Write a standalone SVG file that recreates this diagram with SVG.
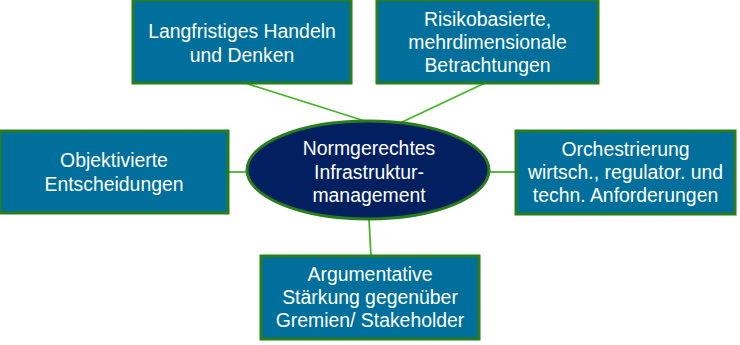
<svg xmlns="http://www.w3.org/2000/svg" width="740" height="345" viewBox="0 0 740 345">
<style>
.box{fill:#006f9c;stroke:#2a7d1c;stroke-width:3}
.ell{fill:#022060;stroke:#2a7d1c;stroke-width:3}
.con{stroke:#45b52a;stroke-width:1.8;fill:none}
text{font-family:"Liberation Sans",Arial,sans-serif;font-size:19.4px;fill:#ffffff;text-anchor:middle}
</style>
<rect width="740" height="345" fill="#ffffff"/>
<g id="connectors">
<line class="con" x1="245" y1="83" x2="365" y2="121"/>
<line class="con" x1="485" y1="83" x2="400" y2="123"/>
<line class="con" x1="228" y1="172" x2="247" y2="172"/>
<line class="con" x1="489" y1="172" x2="516" y2="172"/>
<line class="con" x1="369" y1="219" x2="371" y2="256"/>
</g>
<g id="node-langfristig">
<rect class="box" x="133" y="0" width="218" height="83"/>
<text x="242" y="38">Langfristiges Handeln</text>
<text x="242" y="61.5">und Denken</text>
</g>
<g id="node-risiko">
<rect class="box" x="377" y="0" width="221" height="83"/>
<text x="487.5" y="25.5">Risikobasierte,</text>
<text x="487.5" y="48.5">mehrdimensionale</text>
<text x="487.5" y="71.5">Betrachtungen</text>
</g>
<g id="node-objektiv">
<rect class="box" x="0" y="131" width="228" height="82"/>
<text x="114" y="166.5">Objektivierte</text>
<text x="114" y="190.5">Entscheidungen</text>
</g>
<g id="node-orchestrierung">
<rect class="box" x="516" y="131" width="219" height="83"/>
<text x="625.5" y="155.5">Orchestrierung</text>
<text x="625.5" y="179">wirtsch., regulator. und</text>
<text x="625.5" y="201.5">techn. Anforderungen</text>
</g>
<g id="node-argument">
<rect class="box" x="261" y="256" width="218" height="83"/>
<text x="370" y="280.5">Argumentative</text>
<text x="370" y="303.5">Stärkung gegenüber</text>
<text x="370" y="327">Gremien/ Stakeholder</text>
</g>
<g id="node-center">
<ellipse class="ell" cx="368" cy="170" rx="121" ry="49"/>
<text x="369" y="155">Normgerechtes</text>
<text x="369" y="179">Infrastruktur-</text>
<text x="369" y="201.5">management</text>
</g>
</svg>
